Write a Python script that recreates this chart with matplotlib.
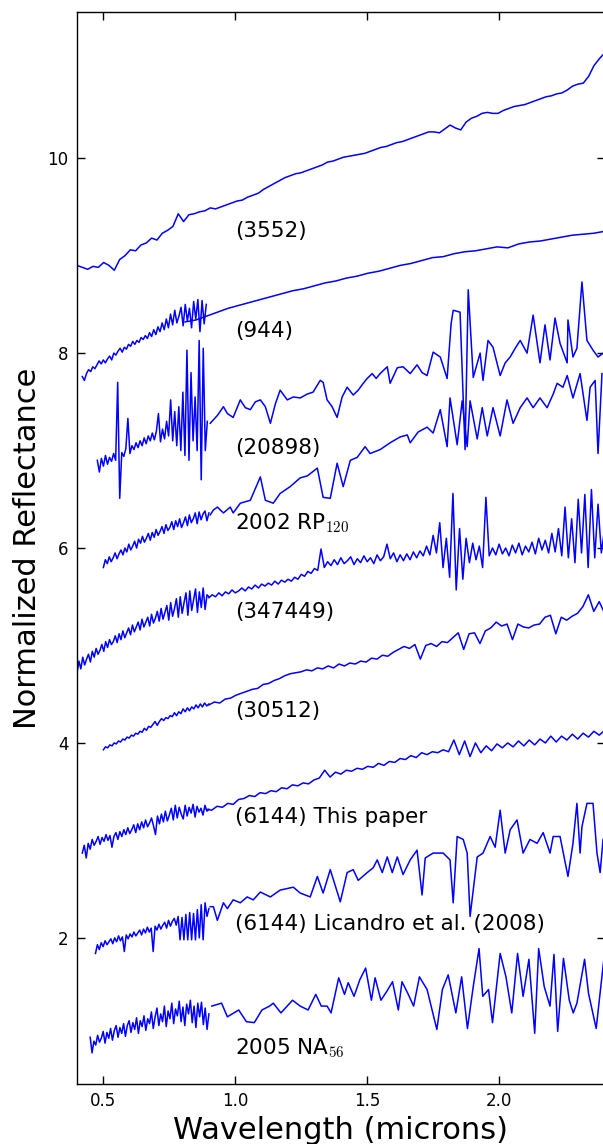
import numpy as np
import matplotlib
matplotlib.use("Agg")
import matplotlib.pyplot as plt

plt.rcParams['font.family'] = ['DejaVu Sans']
plt.rcParams['mathtext.fontset'] = 'cm'

# --- spectra ---
# pieces with even sampling: (start, stop) wavelength + reflectance list

# (3552)
s3552_range = (0.40, 2.40)
s3552_refl = [8.90, 8.88, 8.86, 8.89, 8.88, 8.93, 8.90, 8.85, 8.96, 9.00,
              9.06, 9.05, 9.11, 9.13, 9.18, 9.16, 9.23, 9.26, 9.30, 9.43,
              9.35, 9.42, 9.43, 9.45, 9.46, 9.49, 9.48, 9.50, 9.52, 9.54,
              9.56, 9.57, 9.60, 9.62, 9.64, 9.68, 9.71, 9.74, 9.77, 9.80,
              9.82, 9.84, 9.85, 9.87, 9.89, 9.91, 9.93, 9.96, 9.97, 9.99,
              10.01, 10.02, 10.03, 10.04, 10.05, 10.07, 10.09, 10.11, 10.12, 10.14,
              10.16, 10.17, 10.19, 10.21, 10.23, 10.25, 10.27, 10.27, 10.26, 10.30,
              10.34, 10.31, 10.29, 10.37, 10.41, 10.43, 10.46, 10.47, 10.46, 10.46,
              10.49, 10.51, 10.53, 10.54, 10.55, 10.57, 10.59, 10.61, 10.63, 10.64,
              10.66, 10.67, 10.70, 10.74, 10.76, 10.77, 10.84, 10.95, 11.02, 11.08]

# (944)
s944_vis_range = (0.42, 0.89)
s944_vis = [7.76, 7.72, 7.79, 7.83, 7.81, 7.86, 7.84, 7.88, 7.92, 7.89,
            7.93, 7.90, 7.94, 7.97, 7.93, 8.00, 7.98, 8.02, 8.05, 8.01,
            8.06, 8.04, 8.09, 8.07, 8.12, 8.09, 8.13, 8.11, 8.16, 8.14,
            8.18, 8.15, 8.21, 8.17, 8.24, 8.19, 8.27, 8.22, 8.31, 8.24,
            8.35, 8.26, 8.40, 8.29, 8.44, 8.31, 8.38, 8.47, 8.28, 8.50,
            8.33, 8.46, 8.26, 8.53, 8.35, 8.55, 8.22, 8.54, 8.30, 8.50]
s944_nir_range = (0.81, 2.40)
s944_nir = [8.32, 8.34, 8.38, 8.42, 8.46, 8.49, 8.52, 8.55, 8.58, 8.61,
            8.64, 8.66, 8.69, 8.72, 8.74, 8.77, 8.79, 8.82, 8.84, 8.87,
            8.90, 8.92, 8.95, 8.98, 8.99, 9.02, 9.04, 9.05, 9.07, 9.09,
            9.08, 9.12, 9.14, 9.15, 9.17, 9.19, 9.21, 9.22, 9.23, 9.25]

# (20898)
s20898_vis_range = (0.477, 0.894)
s20898_vis = [6.90, 6.78, 6.92, 6.84, 6.95, 6.86, 6.93, 6.89, 6.97, 6.90,
              7.70, 6.51, 6.98, 6.94, 7.02, 7.33, 6.97, 7.05, 7.01, 7.08,
              7.03, 7.10, 7.05, 7.13, 7.07, 7.15, 7.10, 7.18, 7.11, 7.20,
              7.38, 7.09, 7.22, 7.12, 7.30, 7.15, 7.52, 7.10, 7.40, 7.05,
              7.45, 7.00, 7.60, 6.95, 8.03, 6.90, 7.80, 7.10, 7.55, 7.00,
              8.13, 6.70, 8.05, 7.00, 7.30]
s20898_nir_wave = [0.905, 0.932, 0.955, 0.970, 0.992, 1.019, 1.038, 1.057, 1.076, 1.095,
                   1.114, 1.133, 1.152, 1.170, 1.197, 1.220, 1.246, 1.273, 1.295, 1.322,
                   1.333, 1.348, 1.367, 1.386, 1.405, 1.424, 1.447, 1.466, 1.485, 1.500,
                   1.519, 1.534, 1.549, 1.576, 1.587, 1.614, 1.636, 1.663, 1.689, 1.708,
                   1.727, 1.750, 1.777, 1.803, 1.818, 1.826, 1.852, 1.871, 1.883, 1.902,
                   1.928, 1.939, 1.958, 1.977, 2.004, 2.023, 2.042, 2.061, 2.080, 2.106,
                   2.129, 2.155, 2.174, 2.193, 2.212, 2.231, 2.258, 2.261, 2.280, 2.295,
                   2.314, 2.333, 2.356, 2.375, 2.394]
s20898_nir_refl = [7.28, 7.36, 7.45, 7.38, 7.34, 7.52, 7.44, 7.42, 7.50, 7.52,
                   7.45, 7.28, 7.48, 7.62, 7.52, 7.55, 7.54, 7.58, 7.60, 7.72,
                   7.70, 7.52, 7.45, 7.34, 7.55, 7.65, 7.57, 7.62, 7.69, 7.74,
                   7.79, 7.74, 7.79, 7.86, 7.69, 7.85, 7.86, 7.79, 7.88, 7.80,
                   7.77, 8.01, 7.96, 7.74, 8.30, 8.44, 8.42, 7.01, 8.65, 7.75,
                   8.00, 7.72, 8.13, 8.06, 7.77, 7.90, 7.96, 8.05, 8.13, 8.00,
                   8.39, 7.90, 8.29, 7.93, 8.36, 8.10, 7.90, 8.34, 7.96, 8.05,
                   8.73, 8.13, 8.03, 7.96, 8.00]

# 2002 RP120
rp120_vis_range = (0.50, 0.90)
rp120_vis = [5.80, 5.88, 5.84, 5.91, 5.86, 5.90, 5.95, 5.89, 5.94, 5.98,
             5.93, 6.00, 5.96, 6.04, 5.98, 6.02, 6.07, 6.00, 6.09, 6.05,
             6.12, 6.06, 6.10, 6.15, 6.08, 6.16, 6.11, 6.19, 6.13, 6.17,
             6.22, 6.15, 6.24, 6.18, 6.21, 6.27, 6.19, 6.28, 6.22, 6.30,
             6.21, 6.26, 6.32, 6.23, 6.34, 6.26, 6.30, 6.36, 6.25, 6.37,
             6.29, 6.35, 6.38, 6.28, 6.36]
rp120_nir_wave = [0.905, 0.917, 0.932, 0.955, 0.981, 0.992, 1.019, 1.057, 1.095, 1.114,
                  1.144, 1.170, 1.208, 1.246, 1.273, 1.311, 1.333, 1.360, 1.386, 1.409,
                  1.436, 1.462, 1.492, 1.511, 1.549, 1.587, 1.625, 1.652, 1.663, 1.693,
                  1.727, 1.750, 1.777, 1.803, 1.814, 1.841, 1.860, 1.879, 1.890, 1.917,
                  1.936, 1.955, 1.977, 2.004, 2.030, 2.053, 2.080, 2.106, 2.129, 2.155,
                  2.182, 2.205, 2.220, 2.242, 2.258, 2.280, 2.307, 2.333, 2.345, 2.364,
                  2.375, 2.390]
rp120_nir_refl = [6.34, 6.39, 6.42, 6.36, 6.42, 6.36, 6.46, 6.49, 6.73, 6.49,
                  6.46, 6.56, 6.63, 6.72, 6.74, 6.82, 6.52, 6.51, 6.87, 6.63,
                  6.90, 6.93, 7.04, 6.97, 7.01, 7.08, 7.14, 7.16, 7.08, 7.19,
                  7.24, 7.18, 7.42, 7.04, 7.54, 7.06, 7.51, 7.04, 7.51, 7.12,
                  7.44, 7.15, 7.44, 7.15, 7.52, 7.28, 7.44, 7.54, 7.44, 7.54,
                  7.44, 7.58, 7.69, 7.65, 7.77, 7.54, 7.79, 7.31, 7.65, 7.72,
                  6.97, 7.79]

# (347449)
s347449_vis_range = (0.40, 0.90)
s347449_vis = [4.72, 4.84, 4.76, 4.88, 4.80, 4.86, 4.91, 4.83, 4.94, 4.88,
               4.97, 4.91, 4.95, 5.01, 4.94, 5.04, 4.98, 5.06, 5.01, 5.04,
               5.10, 5.03, 5.12, 5.06, 5.15, 5.08, 5.13, 5.18, 5.11, 5.21,
               5.14, 5.19, 5.24, 5.16, 5.27, 5.19, 5.24, 5.29, 5.20, 5.32,
               5.23, 5.28, 5.35, 5.25, 5.38, 5.27, 5.34, 5.41, 5.26, 5.44,
               5.30, 5.38, 5.48, 5.29, 5.50, 5.33, 5.44, 5.54, 5.31, 5.56,
               5.36, 5.47, 5.58, 5.34, 5.55, 5.39, 5.59, 5.37, 5.52, 5.50]
s347449_nir_range = (0.90, 2.40)
s347449_nir = [5.49, 5.52, 5.50, 5.54, 5.51, 5.55, 5.53, 5.57, 5.54, 5.56,
               5.59, 5.56, 5.60, 5.58, 5.62, 5.59, 5.63, 5.61, 5.64, 5.62,
               5.66, 5.63, 5.67, 5.65, 5.68, 5.66, 5.70, 5.68, 5.73, 5.71,
               5.76, 5.74, 5.79,
               5.77, 5.99, 5.80, 5.86, 5.82, 5.88, 5.83, 5.90, 5.84, 5.87,
               5.91, 5.83, 5.89, 5.85, 5.92, 5.86, 5.90, 5.84, 5.93, 5.87,
               5.91, 6.04, 5.89, 5.95, 5.86, 5.93, 5.87, 5.94, 5.88, 5.96,
               5.90, 5.97, 5.92, 6.02, 5.93, 6.13,
               5.95, 6.26, 5.80, 6.10, 5.70, 6.56, 5.57, 6.20, 5.68, 6.10,
               5.85, 6.05,
               5.88, 6.02, 5.80, 6.52, 5.92, 6.00, 5.93, 6.04, 5.94, 6.00,
               5.92, 6.03, 5.95, 6.05, 5.93, 6.02, 5.96, 6.06, 5.94, 6.10,
               5.98, 6.08, 5.95, 6.15,
               5.96, 6.20, 5.92, 6.42, 5.90, 6.30, 5.85, 6.50, 5.95, 6.55,
               5.80, 6.60, 5.90, 6.45, 5.95, 6.20]

# (30512)
s30512_vis_range = (0.50, 0.90)
s30512_vis = [3.93, 3.96, 3.95, 3.98, 3.97, 4.00, 3.99, 4.02, 4.01, 4.04,
              4.03, 4.06, 4.05, 4.08, 4.07, 4.10, 4.09, 4.12, 4.11, 4.15,
              4.13, 4.17, 4.16, 4.19, 4.22, 4.18, 4.22, 4.25, 4.23, 4.26,
              4.25, 4.28, 4.27, 4.31, 4.28, 4.32, 4.30, 4.35, 4.32, 4.36,
              4.33, 4.37, 4.35, 4.39, 4.36, 4.40, 4.37, 4.41, 4.38, 4.40]
s30512_nir_range = (0.90, 2.40)
s30512_nir = [4.39, 4.42, 4.41, 4.45, 4.46, 4.49, 4.51, 4.53, 4.55, 4.56,
              4.60, 4.61, 4.64, 4.66, 4.69, 4.71, 4.72, 4.73, 4.75, 4.74,
              4.77, 4.76, 4.79, 4.77, 4.81, 4.79, 4.82, 4.81, 4.84, 4.83,
              4.87, 4.86, 4.90, 4.89, 4.93, 4.96, 4.99, 4.97, 5.01, 4.86,
              5.00, 5.02, 4.99, 5.04, 5.03, 5.08, 5.13, 4.96, 5.12, 5.13,
              5.02, 5.15, 5.18, 5.24, 5.20, 5.22, 5.06, 5.22, 5.19, 5.18,
              5.21, 5.22, 5.29, 5.31, 5.12, 5.29, 5.26, 5.30, 5.33, 5.40,
              5.52, 5.35, 5.45, 5.33]

# (6144) This paper
s6144_vis_range = (0.42, 0.90)
s6144_vis = [2.87, 2.95, 2.82, 2.97, 2.91, 3.01, 2.95, 2.99, 3.04, 2.96,
             3.03, 2.99, 3.06, 3.00, 3.05, 2.93, 3.04, 3.08, 3.01, 3.09,
             3.04, 3.11, 3.06, 3.13, 3.07, 3.11, 3.16, 3.08, 3.17, 3.11,
             3.19, 3.13, 3.21, 3.14, 3.18, 3.23, 3.15, 3.06, 3.25, 3.17,
             3.27, 3.19, 3.30, 3.20, 3.26, 3.33, 3.21, 3.36, 3.23, 3.34,
             3.27, 3.22, 3.36, 3.25, 3.34, 3.28, 3.37, 3.24, 3.35, 3.29,
             3.33, 3.26, 3.36, 3.30, 3.32]
s6144_nir_range = (0.89, 2.40)
s6144_nir = [3.32, 3.31, 3.35, 3.34, 3.38, 3.37, 3.42, 3.43, 3.46, 3.45,
             3.49, 3.48, 3.51, 3.50, 3.54, 3.53, 3.57, 3.56, 3.59, 3.58,
             3.62, 3.64, 3.72, 3.65, 3.70, 3.68, 3.72, 3.71, 3.74, 3.73,
             3.76, 3.75, 3.79, 3.77, 3.81, 3.80, 3.84, 3.83, 3.87, 3.85,
             3.90, 3.88, 3.91, 3.90, 3.93, 3.91, 4.03, 3.88, 4.02, 3.86,
             4.00, 3.90, 3.97, 3.92, 3.99, 3.95, 4.00, 3.96, 4.02, 3.97,
             4.03, 3.98, 4.04, 4.00, 4.07, 4.01, 4.07, 4.03, 4.09, 4.04,
             4.10, 4.06, 4.12, 4.08, 4.13]

# (6144) Licandro et al. (2008)
lic_vis_range = (0.47, 0.90)
lic_vis = [1.84, 1.93, 1.88, 1.95, 1.91, 1.97, 1.93, 1.96, 1.99, 1.94,
           2.00, 1.96, 2.02, 1.97, 2.01, 1.86, 2.03, 1.99, 2.04, 2.01,
           2.06, 2.02, 2.05, 2.08, 2.03, 2.09, 2.05, 2.11, 2.06, 2.10,
           1.86, 2.12, 2.08, 2.14, 2.09, 2.13, 2.16, 2.10, 2.18, 2.12,
           2.17, 2.20, 2.13, 2.22, 1.98, 2.21, 1.98, 2.24, 1.98, 2.26,
           1.98, 2.25, 1.98, 2.29, 2.00, 2.34, 1.98, 2.36, 2.22, 2.30]
lic_nir_wave = [0.905, 0.917, 0.932, 0.955, 0.970, 0.992, 1.019, 1.045, 1.068, 1.095,
                1.133, 1.170, 1.220, 1.246, 1.284, 1.311, 1.333, 1.360, 1.398, 1.424,
                1.447, 1.466, 1.500, 1.523, 1.538, 1.557, 1.576, 1.595, 1.614, 1.636,
                1.663, 1.689, 1.708, 1.720, 1.750, 1.788, 1.814, 1.826, 1.841, 1.864,
                1.879, 1.890, 1.917, 1.939, 1.966, 1.985, 2.004, 2.023, 2.042, 2.068,
                2.091, 2.117, 2.144, 2.167, 2.193, 2.205, 2.231, 2.261, 2.280, 2.295,
                2.307, 2.314, 2.333, 2.356, 2.371, 2.383, 2.394]
lic_nir_refl = [2.32, 2.32, 2.18, 2.36, 2.30, 2.39, 2.36, 2.42, 2.39, 2.47,
                2.42, 2.49, 2.52, 2.46, 2.42, 2.63, 2.46, 2.70, 2.37, 2.67,
                2.70, 2.59, 2.67, 2.72, 2.80, 2.67, 2.83, 2.67, 2.83, 2.65,
                2.80, 2.90, 2.44, 2.82, 2.87, 2.87, 2.80, 2.36, 3.04, 3.01,
                2.87, 2.22, 2.83, 2.87, 3.04, 2.93, 3.31, 2.87, 3.11, 3.21,
                2.87, 3.01, 2.97, 3.08, 2.87, 3.04, 3.04, 2.63, 2.97, 3.38,
                2.87, 3.14, 3.38, 3.38, 2.87, 2.67, 3.01]

# 2005 NA56
na56_vis_range = (0.45, 0.90)
na56_vis = [0.98, 0.82, 0.94, 0.90, 1.00, 0.93, 0.97, 1.04, 0.92, 1.03,
            0.97, 1.07, 0.95, 1.05, 1.10, 0.98, 1.08, 1.02, 1.12, 0.99,
            1.10, 1.15, 1.03, 1.13, 1.06, 1.18, 1.02, 1.15, 1.09, 1.20,
            1.05, 1.17, 1.12, 1.24, 1.07, 1.19, 1.28, 1.10, 1.22, 1.14,
            1.30, 1.09, 1.25, 1.17, 1.33, 1.12, 1.27, 1.20, 1.35, 1.14,
            1.29, 1.10, 1.32, 1.22, 1.36, 1.13, 1.30, 1.08, 1.33, 1.19,
            1.34, 1.11, 1.28, 1.06, 1.22]
na56_nir_wave = [0.911, 0.948, 0.970, 1.013, 1.042, 1.072, 1.101, 1.130, 1.144, 1.173,
                 1.217, 1.246, 1.276, 1.305, 1.326, 1.348, 1.363, 1.392, 1.414, 1.428,
                 1.450, 1.472, 1.494, 1.516, 1.530, 1.552, 1.574, 1.596, 1.618, 1.632,
                 1.654, 1.676, 1.698, 1.727, 1.764, 1.785, 1.807, 1.836, 1.858, 1.880,
                 1.902, 1.924, 1.938, 1.960, 1.975, 2.004, 2.026, 2.048, 2.070, 2.091,
                 2.113, 2.135, 2.150, 2.171, 2.193, 2.208, 2.222, 2.244, 2.266, 2.281,
                 2.295, 2.324, 2.339, 2.368, 2.397]
na56_nir_refl = [1.30, 1.33, 1.19, 1.26, 1.14, 1.13, 1.26, 1.30, 1.33, 1.23,
                 1.36, 1.30, 1.26, 1.42, 1.30, 1.30, 1.23, 1.59, 1.42, 1.54,
                 1.40, 1.57, 1.69, 1.36, 1.59, 1.36, 1.45, 1.55, 1.26, 1.55,
                 1.43, 1.30, 1.60, 1.47, 1.06, 1.47, 1.62, 1.23, 1.60, 1.07,
                 1.50, 1.89, 1.40, 1.47, 1.13, 1.84, 1.60, 1.23, 1.84, 1.40,
                 1.78, 1.02, 1.89, 1.50, 1.30, 1.83, 1.04, 1.79, 1.36, 1.23,
                 1.33, 1.78, 1.43, 1.07, 1.78]

# labels: text and baseline height
label_names = ['(3552)', '(944)', '(20898)', '2002 RP$_{120}$', '(347449)',
               '(30512)', '(6144) This paper', '(6144) Licandro et al. (2008)',
               '2005 NA$_{56}$']
label_y = [9.19, 8.17, 6.96, 6.19, 5.28, 4.27, 3.18, 2.08, 0.80]
label_x = 1.0


def even(rng, vals):
    return np.linspace(rng[0], rng[1], len(vals)), np.asarray(vals)


even_pieces = [
    (s3552_range, s3552_refl),
    (s944_vis_range, s944_vis), (s944_nir_range, s944_nir),
    (s20898_vis_range, s20898_vis),
    (rp120_vis_range, rp120_vis),
    (s347449_vis_range, s347449_vis), (s347449_nir_range, s347449_nir),
    (s30512_vis_range, s30512_vis), (s30512_nir_range, s30512_nir),
    (s6144_vis_range, s6144_vis), (s6144_nir_range, s6144_nir),
    (lic_vis_range, lic_vis),
    (na56_vis_range, na56_vis),
]
paired_pieces = [
    (s20898_nir_wave, s20898_nir_refl),
    (rp120_nir_wave, rp120_nir_refl),
    (lic_nir_wave, lic_nir_refl),
    (na56_nir_wave, na56_nir_refl),
]

fig = plt.figure(figsize=(6.03, 11.44), dpi=100)
ax = fig.add_axes([0.1277, 0.0524, 0.875, 0.9371])

for rng, vals in even_pieces:
    w, r = even(rng, vals)
    ax.plot(w, r, color='b', lw=1.1)
for w, r in paired_pieces:
    ax.plot(w, r, color='b', lw=1.1)

for name, y in zip(label_names, label_y):
    ax.text(label_x, y, name, fontsize=15.5, va='baseline', ha='left')

ax.set_xlim(0.4, 2.4)
ax.set_ylim(0.5, 11.5)
ax.set_xticks([0.5, 1.0, 1.5, 2.0])
ax.set_yticks([2, 4, 6, 8, 10])
ax.tick_params(direction='in', top=True, right=True, length=5.5, width=1,
               labelsize=12, pad=6)
for s in ax.spines.values():
    s.set_linewidth(1.0)
ax.set_xlabel('Wavelength (microns)', fontsize=22)
ax.set_ylabel('Normalized Reflectance', fontsize=22)

fig.savefig('out.png', dpi=100)
